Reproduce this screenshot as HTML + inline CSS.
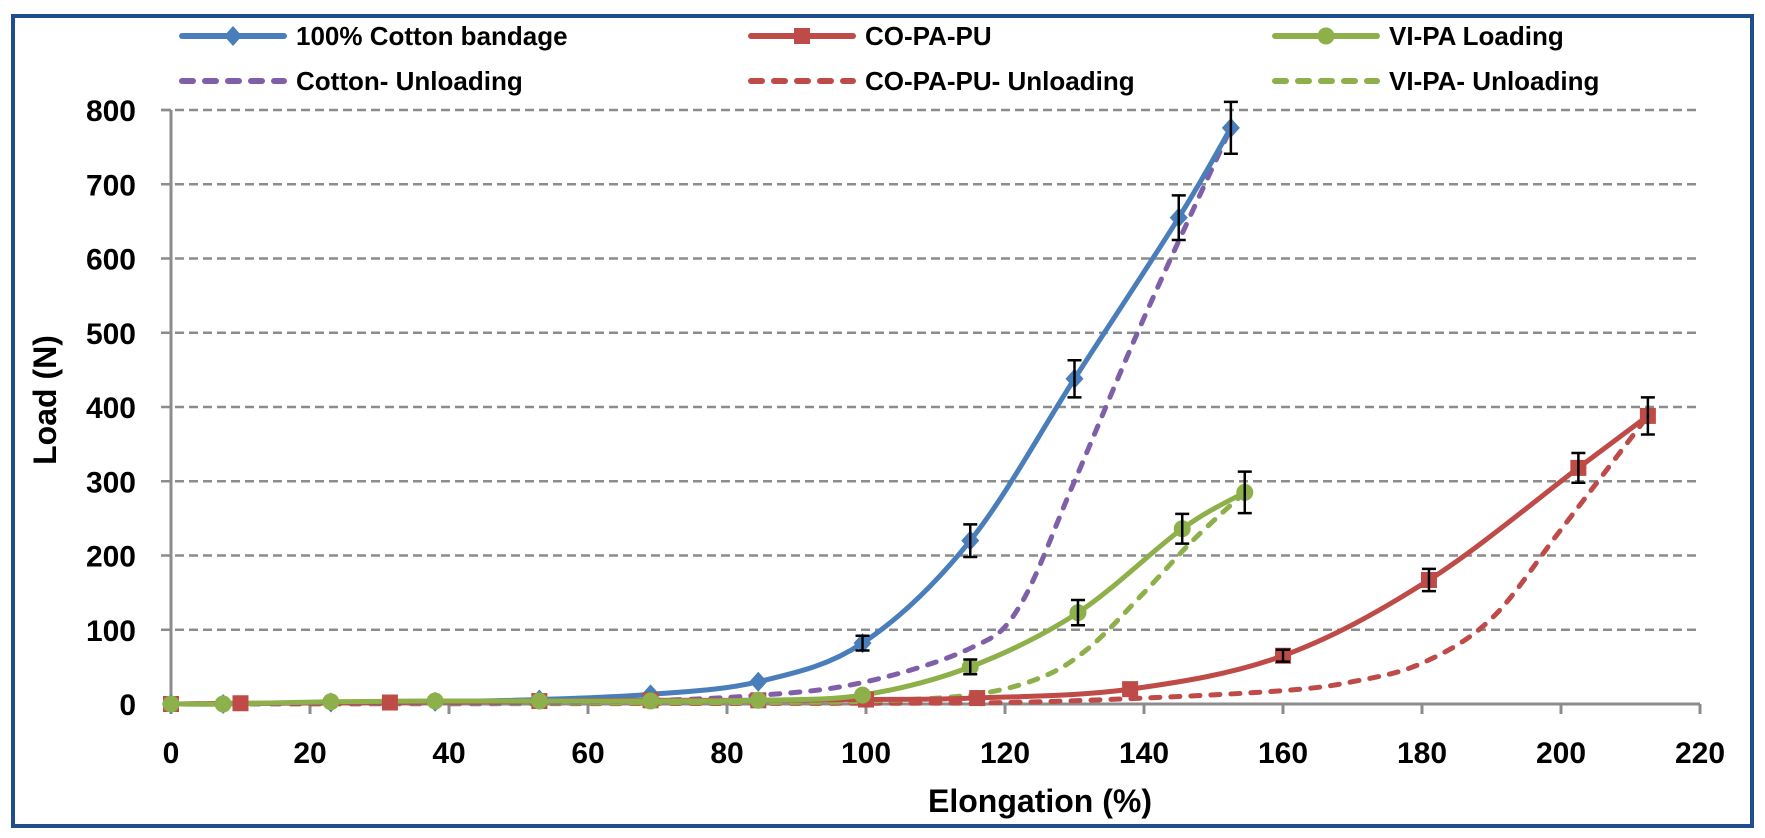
<!DOCTYPE html>
<html><head><meta charset="utf-8"><style>
html,body{margin:0;padding:0;background:#fff;}
svg{display:block;font-family:"Liberation Sans",sans-serif;font-weight:bold;}
</style></head><body>
<svg id="s" width="1765" height="838" viewBox="0 0 1765 838" xmlns="http://www.w3.org/2000/svg">
<rect x="13" y="16" width="1739" height="810" fill="#fff" stroke="#1f4e8c" stroke-width="4"/>
<g id="grid"></g>
<g id="series"></g>
<g id="legend"></g>
<text x="1040" y="812" font-size="32" text-anchor="middle">Elongation (%)</text>
<text transform="translate(56,400) rotate(-90)" font-size="32" text-anchor="middle">Load (N)</text>
</svg>
<script>
const NS="http://www.w3.org/2000/svg";
const X=v=>171+v*(1700-171)/220, Y=v=>704-v*(594/800);
function el(p,tag,attrs,txt){const e=document.createElementNS(NS,tag);for(const k in attrs)e.setAttribute(k,attrs[k]);if(txt!==undefined)e.textContent=txt;p.appendChild(e);return e;}
const g=document.getElementById('grid');
for(let v=100;v<=800;v+=100) el(g,'line',{x1:161,x2:1700,y1:Y(v),y2:Y(v),stroke:'#8c8c8c','stroke-width':2.5,'stroke-dasharray':'9,5'});
for(let v=0;v<=800;v+=100) el(g,'text',{x:136,y:Y(v)+11,'font-size':30,'text-anchor':'end'},v);
el(g,'line',{x1:171,x2:171,y1:Y(800),y2:704,stroke:'#8c8c8c','stroke-width':3});
el(g,'line',{x1:161,x2:171,y1:Y(800),y2:Y(800),stroke:'#8c8c8c','stroke-width':2.5});
el(g,'line',{x1:171,x2:1700,y1:704,y2:704,stroke:'#8c8c8c','stroke-width':3});
for(let v=0;v<=220;v+=20){el(g,'line',{x1:X(v),x2:X(v),y1:704,y2:714,stroke:'#8c8c8c','stroke-width':3});el(g,'text',{x:X(v),y:763,'font-size':30,'text-anchor':'middle'},v);}
function path(pts){const P=pts.map(p=>[X(p[0]),Y(p[1])]);let d='M'+P[0][0]+','+P[0][1];
for(let i=0;i<P.length-1;i++){const p0=P[i-1]||P[i],p1=P[i],p2=P[i+1],p3=P[i+2]||P[i+1];const t=6;
d+=` C${p1[0]+(p2[0]-p0[0])/t},${p1[1]+(p2[1]-p0[1])/t} ${p2[0]-(p3[0]-p1[0])/t},${p2[1]-(p3[1]-p1[1])/t} ${p2[0]},${p2[1]}`;}return d;}
const S=document.getElementById('series');
function marker(p,type,c,x,y){if(type==='d')el(p,'polygon',{points:`${x},${y-10} ${x+9},${y} ${x},${y+10} ${x-9},${y}`,fill:c});
else if(type==='s')el(p,'rect',{x:x-8,y:y-8,width:16,height:16,fill:c});else el(p,'circle',{cx:x,cy:y,r:8.5,fill:c});}
function err(x,v,e){const a=Y(v+e),b=Y(v-e),x0=X(x);el(S,'path',{d:`M${x0},${a}V${b}M${x0-7},${a}H${x0+7}M${x0-7},${b}H${x0+7}`,stroke:'#000','stroke-width':2.5,fill:'none'});}
const blueP=[[0,0],[7.5,0],[23,2],[38,3],[53,6],[69,13],[84.5,30],[99.5,82],[115,220],[130,438],[145,655],[152.5,776]];
const redP=[[0,0],[10,1],[31.5,2],[53,4],[69,5],[84.5,5],[100,6],[116,8],[138,20],[160,65],[181,167],[202.5,318],[212.5,388]];
const grnP=[[0,0],[7.5,0],[23,3],[38,4],[53,4],[69,4],[84.5,5],[99.5,12],[115,50],[130.5,123],[145.5,236],[154.5,285]];
const purU=[[0,0],[60,3],[85,12],[100,30],[115,75],[122,130],[130,300],[140,520],[152.5,776]];
const redU=[[0,0],[100,1],[120,2],[140,8],[160,18],[170,30],[180,55],[190,115],[200,235],[212.5,388]];
const grnU=[[0,0],[85,2],[100,4],[115,12],[125,35],[132,75],[140,150],[147,220],[154.5,285]];
const C={b:'#4a7ebb',r:'#be4b48',g:'#8db04a',p:'#7f5fa8'};
const DA={'stroke-dasharray':'9,11','stroke-linecap':'round'};
function line(pts,c,dash){const a={d:path(pts),stroke:c,'stroke-width':5,fill:'none'};if(dash)Object.assign(a,DA);el(S,'path',a);}
line(redU,C.r,1);line(grnU,C.g,1);line(purU,C.p,1);
line(blueP,C.b);line(redP,C.r);line(grnP,C.g);
blueP.forEach(p=>marker(S,'d',C.b,X(p[0]),Y(p[1])));
redP.forEach(p=>marker(S,'s',C.r,X(p[0]),Y(p[1])));
grnP.forEach(p=>marker(S,'c',C.g,X(p[0]),Y(p[1])));
[[99.5,82,10],[115,220,22],[130,438,25],[145,655,30],[152.5,776,35]].forEach(a=>err(...a));
[[160,65,8],[181,167,15],[202.5,318,20],[212.5,388,25]].forEach(a=>err(...a));
[[115,50,10],[130.5,123,17],[145.5,236,20],[154.5,285,28]].forEach(a=>err(...a));
const L=document.getElementById('legend');
function leg(x,y,c,dash,m,label){const a={x1:x+3,x2:x+105,y1:y,y2:y,stroke:c,'stroke-width':6,'stroke-linecap':'round'};if(dash)Object.assign(a,{'stroke-dasharray':'11,12'});el(L,'line',a);if(m)marker(L,m,c,x+54,y);el(L,'text',{x:x+117,y:y+9,'font-size':26},label);}
leg(179,36,C.b,false,'d','100% Cotton bandage');
leg(179,81,C.p,true,null,'Cotton- Unloading');
leg(748,36,C.r,false,'s','CO-PA-PU');
leg(748,81,C.r,true,null,'CO-PA-PU- Unloading');
leg(1272,36,C.g,false,'c','VI-PA Loading');
leg(1272,81,C.g,true,null,'VI-PA- Unloading');
</script>
</body></html>
